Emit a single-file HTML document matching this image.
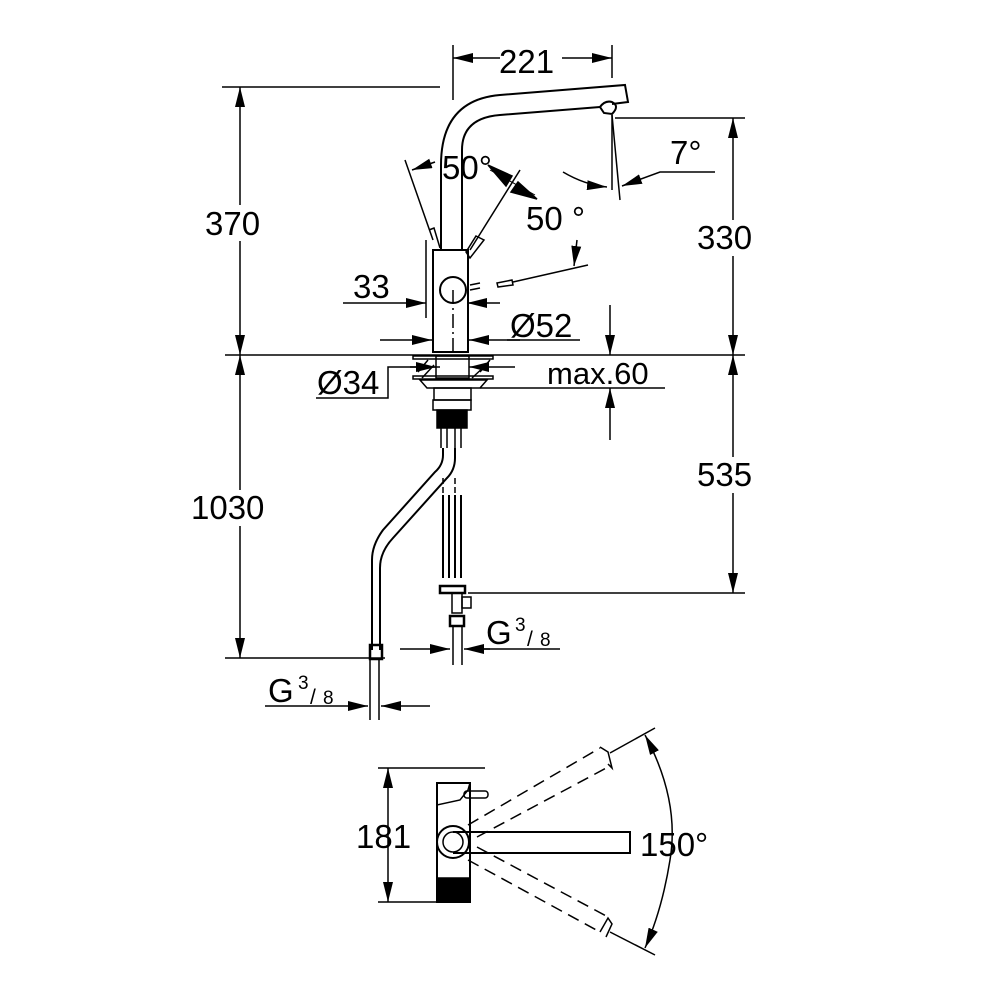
<!DOCTYPE html>
<html><head><style>body{margin:0;background:#fff}svg{display:block}text{font-family:"Liberation Sans",sans-serif;font-size:33px;fill:#000}</style></head><body>
<svg width="1000" height="1000" viewBox="0 0 1000 1000" xmlns="http://www.w3.org/2000/svg">
<defs>
<marker id="a" markerWidth="20" markerHeight="10" refX="20" refY="5" orient="auto" markerUnits="userSpaceOnUse"><path d="M0,0L20,5L0,10z" fill="#000"/></marker>
<marker id="b" markerWidth="20" markerHeight="10" refX="0" refY="5" orient="auto" markerUnits="userSpaceOnUse"><path d="M20,0L0,5L20,10z" fill="#000"/></marker>
</defs>
<g stroke="#000" stroke-width="1.5" fill="none">
<line x1="453" y1="45" x2="453" y2="100"/><line x1="612" y1="45" x2="612" y2="78"/>
<line x1="453" y1="58" x2="612" y2="58" marker-start="url(#b)" marker-end="url(#a)"/>
<line x1="222" y1="87" x2="440" y2="87"/>
<line x1="240" y1="87" x2="240" y2="355" marker-start="url(#b)" marker-end="url(#a)"/>
<line x1="615" y1="118" x2="745" y2="118"/>
<line x1="733" y1="118" x2="733" y2="355" marker-start="url(#b)" marker-end="url(#a)"/>
<line x1="225" y1="355" x2="745" y2="355"/>
<line x1="240" y1="355" x2="240" y2="658" marker-start="url(#b)" marker-end="url(#a)"/>
<line x1="225" y1="658" x2="385" y2="658"/>
<line x1="733" y1="355" x2="733" y2="593" marker-start="url(#b)" marker-end="url(#a)"/>
<line x1="468" y1="593" x2="745" y2="593"/>
<line x1="610" y1="305" x2="610" y2="355" marker-end="url(#a)"/>
<line x1="610" y1="440" x2="610" y2="388" marker-end="url(#a)"/>
<line x1="480" y1="388" x2="665" y2="388"/>
</g>
<g stroke="#000" stroke-width="2" fill="none">
<path d="M441,250 L441,165 Q441,100 500,95 L625,85 L628,102 L612,104"/>
<path d="M462,250 L462,150 Q462,118 500,115 L600,107"/>
<path d="M600,107 Q605,100 612,102 Q620,106 612,114 L604,113 Z"/>
<rect x="433" y="250" width="35" height="102"/>
<circle cx="453" cy="290" r="13"/>
</g>
<g stroke="#000" stroke-width="1.5" fill="none">
<line x1="612" y1="115" x2="612" y2="190"/><line x1="612" y1="115" x2="620" y2="200"/>
<path d="M563,172 Q585,185 607,187" marker-end="url(#a)"/>
<path d="M715,172 L660,172 L622,186" marker-end="url(#a)"/>
<line x1="453" y1="290" x2="453" y2="352" stroke-dasharray="14,4,2,4"/>
<line x1="405" y1="160" x2="433" y2="240"/>
<path d="M429,230 L434,228 L440,248"/>
<line x1="520" y1="170" x2="470" y2="250"/>
<path d="M476,236 L484,240 L470,258 L466,252 Z"/>
<path d="M412,170 L435,162" marker-start="url(#b)"/>
<path d="M490,170 L535,195" stroke-width="1"/>
<polygon points="488,165 512,176 506,186" fill="#000"/>
<polygon points="537,199 518,182 511,192" fill="#000"/>
<line x1="470" y1="285" x2="480" y2="283"/><line x1="470" y1="290" x2="480" y2="288"/>
<path d="M497,283 L512,280 L513,285 L498,287 Z"/>
<line x1="513" y1="282" x2="588" y2="265"/>
<line x1="577" y1="240" x2="574" y2="266" marker-end="url(#a)"/>
<line x1="343" y1="303" x2="426" y2="303" marker-end="url(#a)"/>
<line x1="426" y1="240" x2="426" y2="318"/>
<line x1="500" y1="303" x2="467" y2="303" marker-end="url(#a)"/>
<line x1="380" y1="340" x2="432" y2="340" marker-end="url(#a)"/>
<line x1="520" y1="340" x2="469" y2="340" marker-end="url(#a)"/>
<path d="M316,398 L388,398 L388,367 L440,367" />
<line x1="410" y1="367" x2="436" y2="367" marker-end="url(#a)"/>
<line x1="515" y1="367" x2="469" y2="367" marker-end="url(#a)"/>
<rect x="413" y="356" width="80" height="3"/>
<rect x="413" y="376" width="80" height="3"/>
<line x1="418" y1="372" x2="428" y2="360"/><line x1="422" y1="378" x2="434" y2="365"/>
<line x1="480" y1="372" x2="490" y2="360"/><line x1="472" y1="378" x2="486" y2="365"/>
<rect x="436" y="356" width="33" height="22"/>
<path d="M420,380 L487,380 L480,388 L427,388 Z"/>
<rect x="434" y="388" width="37" height="12"/>
<rect x="433" y="400" width="38" height="10"/>
<rect x="437" y="410" width="30" height="18" fill="#000"/>
<line x1="441" y1="428" x2="441" y2="448"/><line x1="447" y1="428" x2="447" y2="448"/>
<line x1="455" y1="428" x2="455" y2="448"/><line x1="461" y1="428" x2="461" y2="448"/>
<path d="M443,448 L443,455 Q443,465 435,472 L383,530 Q372,545 372,560 L372,650" stroke-width="2"/>
<path d="M455,448 L455,458 Q455,470 447,478 L393,538 Q380,552 380,568 L380,650" stroke-width="2"/>
<rect x="370" y="645" width="12" height="14" stroke-width="2.5"/>
<line x1="370" y1="658" x2="370" y2="720"/><line x1="379" y1="658" x2="379" y2="720"/>
<line x1="443" y1="478" x2="443" y2="495" stroke-dasharray="6,3"/><line x1="455" y1="478" x2="455" y2="495" stroke-dasharray="6,3"/>
<g stroke-width="2"><line x1="443" y1="495" x2="443" y2="578"/><line x1="449" y1="495" x2="449" y2="578"/>
<line x1="455" y1="495" x2="455" y2="578"/><line x1="461" y1="495" x2="461" y2="578"/></g>
<rect x="440" y="586" width="25" height="7" stroke-width="2.5"/>
<rect x="452" y="593" width="10" height="20"/>
<rect x="462" y="597" width="9" height="11"/>
<rect x="450" y="616" width="14" height="10" stroke-width="2.5"/>
<line x1="453" y1="626" x2="453" y2="665"/><line x1="462" y1="626" x2="462" y2="665"/>
<line x1="400" y1="649" x2="450" y2="649" marker-end="url(#a)"/>
<line x1="490" y1="649" x2="464" y2="649" marker-end="url(#a)"/>
<line x1="470" y1="649" x2="560" y2="649"/>
<line x1="265" y1="706" x2="368" y2="706" marker-end="url(#a)"/>
<line x1="430" y1="706" x2="381" y2="706" marker-end="url(#a)"/>
<line x1="378" y1="768" x2="485" y2="768"/><line x1="378" y1="902" x2="470" y2="902"/>
<line x1="388" y1="768" x2="388" y2="902" marker-start="url(#b)" marker-end="url(#a)"/>
<rect x="437" y="783" width="33" height="119" stroke-width="2"/>
<rect x="437" y="878" width="33" height="24" fill="#000"/>
<path d="M437,783 L437,805 L460,800 L468,790 L470,783 Z"/>
<rect x="464" y="791" width="24" height="7" rx="3"/>
<circle cx="453" cy="842" r="16" stroke-width="2"/>
<circle cx="453" cy="842" r="10"/>
<path d="M453,832 L630,832 L630,853 L453,853" stroke-width="2"/>
<g stroke-dasharray="12,7">
<line x1="468" y1="825" x2="600" y2="748"/><line x1="477" y1="837" x2="610" y2="766"/>
<line x1="468" y1="860" x2="600" y2="932"/><line x1="477" y1="847" x2="610" y2="918"/>
</g>
<path d="M600,747 L608,752 L612,768 L608,764"/>
<path d="M600,932 L608,918 L612,924 L606,937"/>
<line x1="610" y1="753" x2="655" y2="728"/><line x1="610" y1="932" x2="655" y2="955"/>
<path d="M645,735 Q680,800 670,860 Q662,910 645,948" marker-start="url(#b)" marker-end="url(#a)"/>
<line x1="507" y1="340" x2="580" y2="340"/>
</g>
<rect x="205" y="205" width="70" height="36" fill="#fff"/>
<rect x="695" y="220" width="70" height="36" fill="#fff"/>
<rect x="195" y="490" width="90" height="36" fill="#fff"/>
<rect x="695" y="457" width="70" height="36" fill="#fff"/>
<rect x="500" y="42" width="62" height="34" fill="#fff"/>
<text x="499" y="73">221</text>
<text x="205" y="235">370</text>
<text x="697" y="249">330</text>
<text x="191" y="519">1030</text>
<text x="697" y="486">535</text>
<text x="442" y="179">50°</text>
<text x="526" y="230">50 °</text>
<text x="670" y="164">7°</text>
<text x="353" y="298">33</text>
<text x="510" y="337">Ø52</text>
<text x="317" y="394">Ø34</text>
<text x="547" y="384" style="font-size:31px">max.60</text>
<text x="486" y="644">G</text><text x="515" y="631" style="font-size:19px">3</text><text x="527" y="646" style="font-size:21px">/</text><text x="540" y="646" style="font-size:19px">8</text>
<text x="268" y="702">G</text><text x="298" y="689" style="font-size:19px">3</text><text x="310" y="704" style="font-size:21px">/</text><text x="323" y="704" style="font-size:19px">8</text>
<text x="356" y="848">181</text>
<text x="640" y="856">150°</text>
</svg>
</body></html>
